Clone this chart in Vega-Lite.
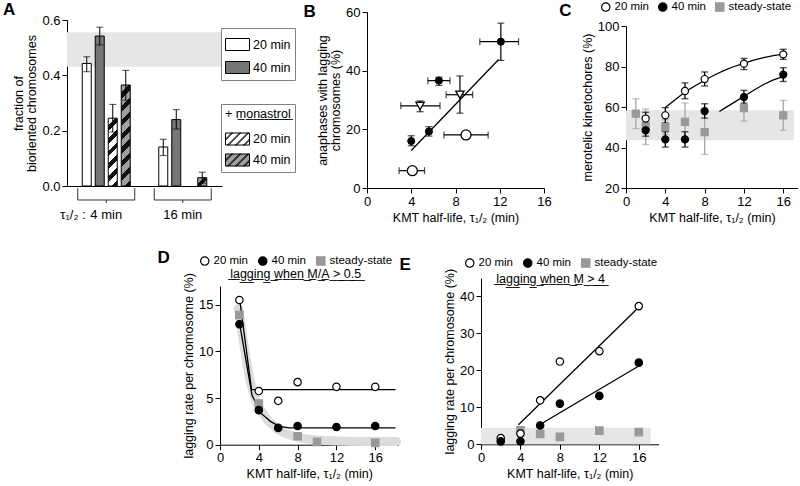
{
 "$schema": "https://vega.github.io/schema/vega-lite/v6.json",
 "background": "white",
 "padding": {"left": 2, "top": 0, "right": 0, "bottom": 0},
 "config": {
  "font": "Liberation Sans",
  "view": {"stroke": null},
  "axis": {"domainColor": "#000", "tickColor": "#000", "labelColor": "#000", "titleColor": "#000", "labelFontSize": 13, "titleFontSize": 12.5, "titleFontWeight": "normal", "grid": false, "tickSize": 5, "labelPadding": 2, "titlePadding": 3, "labelFlush": false, "labelOverlap": false, "titleLineHeight": 13},
  "legend": {"labelFontSize": 11.5, "labelColor": "#000", "titleColor": "#000"},
  "title": {"font": "Liberation Sans", "fontSize": 17, "fontWeight": "bold", "anchor": "start", "frame": "bounds", "color": "#000"}
 },
 "datasets": {
  "A": [
   {"tau": "4", "cond": "20 min", "treat": "ctrl", "grp": "20 min", "v": 0.443, "lo": 0.413, "hi": 0.467},
   {"tau": "4", "cond": "40 min", "treat": "ctrl", "grp": "40 min", "v": 0.542, "lo": 0.510, "hi": 0.574},
   {"tau": "4", "cond": "20 min", "treat": "mon", "grp": "20 min + monastrol", "v": 0.245, "lo": 0.195, "hi": 0.295},
   {"tau": "4", "cond": "40 min", "treat": "mon", "grp": "40 min + monastrol", "v": 0.365, "lo": 0.310, "hi": 0.418},
   {"tau": "16", "cond": "20 min", "treat": "ctrl", "grp": "20 min", "v": 0.141, "lo": 0.110, "hi": 0.169},
   {"tau": "16", "cond": "40 min", "treat": "ctrl", "grp": "40 min", "v": 0.240, "lo": 0.206, "hi": 0.276},
   {"tau": "16", "cond": "40 min", "treat": "mon", "grp": "40 min + monastrol", "v": 0.030, "lo": 0.010, "hi": 0.050}
  ],
  "Bpts": [
   {"kind": "filled", "x": 4.0, "y": 16.0, "ylo": 14.4, "yhi": 17.8, "xlo": null, "xhi": null},
   {"kind": "filled", "x": 5.6, "y": 19.3, "ylo": 17.7, "yhi": 20.9, "xlo": null, "xhi": null},
   {"kind": "filled", "x": 6.5, "y": 36.6, "ylo": 35.0, "yhi": 37.8, "xlo": 5.5, "xhi": 7.5},
   {"kind": "filled", "x": 12.1, "y": 49.9, "ylo": 43.5, "yhi": 56.2, "xlo": 10.2, "xhi": 13.7},
   {"kind": "triangle", "x": 4.8, "y": 28.0, "ylo": 26.0, "yhi": 29.7, "xlo": 3.05, "xhi": 6.6},
   {"kind": "triangle", "x": 8.4, "y": 31.8, "ylo": 25.5, "yhi": 38.2, "xlo": 7.15, "xhi": 9.55},
   {"kind": "open", "x": 4.1, "y": 5.9, "ylo": null, "yhi": null, "xlo": 2.9, "xhi": 5.2},
   {"kind": "open", "x": 8.95, "y": 18.1, "ylo": null, "yhi": null, "xlo": 6.95, "xhi": 10.95}
  ],
  "Bline": [{"x": 4.0, "y": 12.8}, {"x": 11.9, "y": 43.8}],
  "C": [
   {"series": "steady-state", "x": 1, "y": 56.7, "lo": 49.3, "hi": 64.1},
   {"series": "steady-state", "x": 2, "y": 50.5, "lo": 41.5, "hi": 59.0},
   {"series": "steady-state", "x": 4, "y": 50.1, "lo": 46.5, "hi": 53.7},
   {"series": "steady-state", "x": 6, "y": 52.6, "lo": 43.6, "hi": 62.0},
   {"series": "steady-state", "x": 8, "y": 47.6, "lo": 36.6, "hi": 58.6},
   {"series": "steady-state", "x": 12, "y": 59.4, "lo": 53.1, "hi": 65.7},
   {"series": "steady-state", "x": 16, "y": 55.9, "lo": 48.5, "hi": 63.3},
   {"series": "20 min", "x": 2, "y": 54.3, "lo": 51.2, "hi": 57.4},
   {"series": "20 min", "x": 4, "y": 55.9, "lo": 52.1, "hi": 59.7},
   {"series": "20 min", "x": 6, "y": 67.9, "lo": 64.1, "hi": 71.9},
   {"series": "20 min", "x": 8, "y": 73.8, "lo": 70.4, "hi": 77.3},
   {"series": "20 min", "x": 12, "y": 81.4, "lo": 78.5, "hi": 84.0},
   {"series": "20 min", "x": 16, "y": 86.0, "lo": 83.5, "hi": 88.5},
   {"series": "40 min", "x": 2, "y": 48.5, "lo": 45.6, "hi": 51.4},
   {"series": "40 min", "x": 4, "y": 44.0, "lo": 40.2, "hi": 47.8},
   {"series": "40 min", "x": 6, "y": 44.0, "lo": 40.2, "hi": 47.8},
   {"series": "40 min", "x": 8, "y": 58.0, "lo": 54.5, "hi": 61.6},
   {"series": "40 min", "x": 12, "y": 64.9, "lo": 61.9, "hi": 68.2},
   {"series": "40 min", "x": 16, "y": 76.0, "lo": 72.6, "hi": 79.4}
  ],
  "Cfit": [
   {"series": "20 min", "x": 4, "y": 59.7}, {"series": "20 min", "x": 5, "y": 63.6}, {"series": "20 min", "x": 6, "y": 67.4},
   {"series": "20 min", "x": 7, "y": 70.4}, {"series": "20 min", "x": 8, "y": 73.2}, {"series": "20 min", "x": 9, "y": 75.8},
   {"series": "20 min", "x": 10, "y": 78.1}, {"series": "20 min", "x": 11, "y": 80.0}, {"series": "20 min", "x": 12, "y": 81.6},
   {"series": "20 min", "x": 13, "y": 83.1}, {"series": "20 min", "x": 14, "y": 84.4}, {"series": "20 min", "x": 15, "y": 85.4},
   {"series": "20 min", "x": 16, "y": 86.1},
   {"series": "40 min", "x": 9.5, "y": 57.8}, {"series": "40 min", "x": 10, "y": 59.3}, {"series": "40 min", "x": 11, "y": 62.3},
   {"series": "40 min", "x": 12, "y": 65.3}, {"series": "40 min", "x": 13, "y": 68.3}, {"series": "40 min", "x": 14, "y": 71.1},
   {"series": "40 min", "x": 15, "y": 73.4}, {"series": "40 min", "x": 16, "y": 75.0}
  ],
  "D": [
   {"series": "steady-state", "x": 2, "y": 13.9}, {"series": "steady-state", "x": 4, "y": 4.4}, {"series": "steady-state", "x": 8, "y": 0.9},
   {"series": "steady-state", "x": 10, "y": 0.3}, {"series": "steady-state", "x": 16, "y": 0.2},
   {"series": "20 min", "x": 2, "y": 15.5}, {"series": "20 min", "x": 4, "y": 5.75}, {"series": "20 min", "x": 6, "y": 4.7},
   {"series": "20 min", "x": 8, "y": 6.7}, {"series": "20 min", "x": 12, "y": 6.2}, {"series": "20 min", "x": 16, "y": 6.2},
   {"series": "40 min", "x": 2, "y": 12.9}, {"series": "40 min", "x": 4, "y": 3.7}, {"series": "40 min", "x": 6, "y": 1.8},
   {"series": "40 min", "x": 8, "y": 2.0}, {"series": "40 min", "x": 12, "y": 1.9}, {"series": "40 min", "x": 16, "y": 2.0}
  ],
  "Dfit": [
   {"series": "20 min", "x": 2.05, "y": 15.4}, {"series": "20 min", "x": 3.25, "y": 5.9}, {"series": "20 min", "x": 18.1, "y": 5.9},
   {"series": "40 min", "x": 2.05, "y": 12.8}, {"series": "40 min", "x": 3.3, "y": 5.3}, {"series": "40 min", "x": 4.3, "y": 3.3},
   {"series": "40 min", "x": 5.2, "y": 2.5}, {"series": "40 min", "x": 6.05, "y": 2.0}, {"series": "40 min", "x": 7.1, "y": 1.8},
   {"series": "40 min", "x": 18.1, "y": 1.8}
  ],
  "Dss": [
   {"x": 1.9, "y": 14.6}, {"x": 2.5, "y": 10.5}, {"x": 3, "y": 7.3}, {"x": 3.5, "y": 5.3}, {"x": 4, "y": 4.0},
   {"x": 5, "y": 2.5}, {"x": 6, "y": 1.6}, {"x": 7, "y": 1.1}, {"x": 8, "y": 0.8}, {"x": 9, "y": 0.6},
   {"x": 10, "y": 0.5}, {"x": 12, "y": 0.4}, {"x": 14, "y": 0.35}, {"x": 18.2, "y": 0.35}
  ],
  "E": [
   {"series": "steady-state", "x": 4, "y": 3.8}, {"series": "steady-state", "x": 6, "y": 2.8}, {"series": "steady-state", "x": 8, "y": 2.0},
   {"series": "steady-state", "x": 12, "y": 3.7}, {"series": "steady-state", "x": 16, "y": 3.3},
   {"series": "20 min", "x": 2, "y": 1.7}, {"series": "20 min", "x": 4, "y": 2.9}, {"series": "20 min", "x": 6, "y": 11.9},
   {"series": "20 min", "x": 8, "y": 22.4}, {"series": "20 min", "x": 12, "y": 25.2}, {"series": "20 min", "x": 16, "y": 37.4},
   {"series": "40 min", "x": 2, "y": 0.8}, {"series": "40 min", "x": 4, "y": 0.8}, {"series": "40 min", "x": 6, "y": 5.1},
   {"series": "40 min", "x": 8, "y": 11.0}, {"series": "40 min", "x": 12, "y": 13.1}, {"series": "40 min", "x": 16, "y": 22.1}
  ],
  "Efit": [
   {"series": "20 min", "x": 3.8, "y": 5.3}, {"series": "20 min", "x": 16, "y": 37.1},
   {"series": "40 min", "x": 6.2, "y": 5.7}, {"series": "40 min", "x": 16, "y": 21.2}
  ]
 },
 "resolve": {"scale": {"fill": "independent", "stroke": "independent", "shape": "independent", "color": "independent"}, "legend": {"fill": "independent", "stroke": "independent", "shape": "independent", "color": "independent"}},
 "spacing": 25,
 "vconcat": [
  {
   "spacing": 7,
   "resolve": {"scale": {"fill": "independent", "stroke": "independent", "shape": "independent", "color": "independent"}, "legend": {"fill": "independent", "stroke": "independent", "shape": "independent", "color": "independent"}},
   "hconcat": [
    {
     "width": 155, "height": 174,
     "title": {"text": "A", "dx": -10, "offset": -6.5},
     "resolve": {"scale": {"fill": "independent"}, "legend": {"fill": "independent"}},
     "layer": [
      {
       "data": {"values": [{"lo": 0.431, "hi": 0.556}]},
       "mark": {"type": "rect", "color": "#e6e6e6"},
       "encoding": {
        "y": {"field": "lo", "type": "quantitative", "scale": {"domain": [0, 0.6], "nice": false, "range": [174, 8]}, "title": ["fraction of", "bioriented chromosomes"], "axis": {"values": [0, 0.2, 0.4, 0.6]}},
        "y2": {"field": "hi"}
       }
      },
      {
       "data": {"name": "A"},
       "transform": [{"filter": "datum.treat == 'ctrl'"}],
       "mark": {"type": "bar", "stroke": "#000", "strokeWidth": 1},
       "encoding": {
        "x": {"field": "tau", "type": "nominal", "sort": null, "scale": {"domain": ["4", "16"], "paddingInner": 0.255, "paddingOuter": 0.1405}, "axis": {"labels": false, "ticks": false, "title": null}},
        "xOffset": {"field": "grp", "type": "nominal", "sort": null, "scale": {"domain": ["20 min", "40 min", "20 min + monastrol", "40 min + monastrol"], "paddingInner": 0.3077, "paddingOuter": 0.346}},
        "y": {"field": "v", "type": "quantitative", "scale": {"domain": [0, 0.6], "nice": false, "range": [174, 8]}, "title": ["fraction of", "bioriented chromosomes"], "axis": {"values": [0, 0.2, 0.4, 0.6]}},
        "fill": {"field": "cond", "type": "nominal", "scale": {"domain": ["20 min", "40 min"], "range": ["#ffffff", "#767676"]},
         "legend": {"orient": "none", "legendX": 154, "legendY": 16, "title": null, "strokeColor": "#808080", "padding": 4, "symbolType": "M-1,-0.5H1V0.5H-1Z", "symbolSize": 576, "symbolStrokeColor": "#000", "symbolStrokeWidth": 1, "labelOffset": 3, "rowPadding": 2, "labelFontSize": 12.5}}
       }
      },
      {
       "data": {"name": "A"},
       "transform": [{"filter": "datum.treat == 'mon'"}],
       "mark": {"type": "bar", "stroke": "#000", "strokeWidth": 1},
       "encoding": {
        "x": {"field": "tau", "type": "nominal", "sort": null, "scale": {"domain": ["4", "16"], "paddingInner": 0.255, "paddingOuter": 0.1405}, "axis": {"labels": false, "ticks": false, "title": null}},
        "xOffset": {"field": "grp", "type": "nominal", "sort": null, "scale": {"domain": ["20 min", "40 min", "20 min + monastrol", "40 min + monastrol"], "paddingInner": 0.3077, "paddingOuter": 0.346}},
        "y": {"field": "v", "type": "quantitative", "scale": {"domain": [0, 0.6], "nice": false, "range": [174, 8]}, "title": ["fraction of", "bioriented chromosomes"], "axis": {"values": [0, 0.2, 0.4, 0.6]}},
        "fill": {
         "field": "cond", "type": "nominal",
         "scale": {"domain": ["20 min", "40 min"], "range": ["#ffffff", "#a0a0a0"]},
         "legend": {"orient": "none", "legendX": 154, "legendY": 92, "title": "+ m\u0332o\u0332n\u0332a\u0332s\u0332t\u0332r\u0332o\u0332l\u0332", "titleFontSize": 12.5, "titleFontWeight": "normal", "titleFont": "Liberation Sans", "titlePadding": 6, "strokeColor": "#808080", "padding": 4,
          "symbolType": "M-1,-0.5H1V0.5H-1Z M-1,0L-0.5,-0.5L-0.4,-0.5L-1,0.1Z M-0.833,0.5L0.167,-0.5L0.267,-0.5L-0.733,0.5Z M-0.167,0.5L0.833,-0.5L0.933,-0.5L-0.067,0.5Z M0.5,0.5L1,0L1,0.1L0.6,0.5Z",
          "symbolSize": 576, "symbolStrokeColor": "#000", "symbolStrokeWidth": 1, "labelOffset": 3, "rowPadding": -2, "labelFontSize": 12.5},
         "condition": [
          {"test": "datum.tau == '4' && datum.cond == '20 min'", "value": {"gradient": "linear", "x1": 0, "y1": 0, "x2": 0.148, "y2": 1.113, "stops": [
           {"offset": 0, "color": "#ffffff"}, {"offset": 0.0917, "color": "#ffffff"}, {"offset": 0.0917, "color": "#111111"}, {"offset": 0.1667, "color": "#111111"},
           {"offset": 0.1667, "color": "#ffffff"}, {"offset": 0.2583, "color": "#ffffff"}, {"offset": 0.2583, "color": "#111111"}, {"offset": 0.3333, "color": "#111111"},
           {"offset": 0.3333, "color": "#ffffff"}, {"offset": 0.425, "color": "#ffffff"}, {"offset": 0.425, "color": "#111111"}, {"offset": 0.5, "color": "#111111"},
           {"offset": 0.5, "color": "#ffffff"}, {"offset": 0.5917, "color": "#ffffff"}, {"offset": 0.5917, "color": "#111111"}, {"offset": 0.6667, "color": "#111111"},
           {"offset": 0.6667, "color": "#ffffff"}, {"offset": 0.7583, "color": "#ffffff"}, {"offset": 0.7583, "color": "#111111"}, {"offset": 0.8333, "color": "#111111"},
           {"offset": 0.8333, "color": "#ffffff"}, {"offset": 0.925, "color": "#ffffff"}, {"offset": 0.925, "color": "#111111"}, {"offset": 1, "color": "#111111"}]}},
          {"test": "datum.tau == '4' && datum.cond == '40 min'", "value": {"gradient": "linear", "x1": 0, "y1": 0, "x2": 0.0964, "y2": 1.0806, "stops": [
           {"offset": 0, "color": "#a0a0a0"}, {"offset": 0.0688, "color": "#a0a0a0"}, {"offset": 0.0688, "color": "#111111"}, {"offset": 0.125, "color": "#111111"},
           {"offset": 0.125, "color": "#a0a0a0"}, {"offset": 0.1938, "color": "#a0a0a0"}, {"offset": 0.1938, "color": "#111111"}, {"offset": 0.25, "color": "#111111"},
           {"offset": 0.25, "color": "#a0a0a0"}, {"offset": 0.3188, "color": "#a0a0a0"}, {"offset": 0.3188, "color": "#111111"}, {"offset": 0.375, "color": "#111111"},
           {"offset": 0.375, "color": "#a0a0a0"}, {"offset": 0.4438, "color": "#a0a0a0"}, {"offset": 0.4438, "color": "#111111"}, {"offset": 0.5, "color": "#111111"},
           {"offset": 0.5, "color": "#a0a0a0"}, {"offset": 0.5688, "color": "#a0a0a0"}, {"offset": 0.5688, "color": "#111111"}, {"offset": 0.625, "color": "#111111"},
           {"offset": 0.625, "color": "#a0a0a0"}, {"offset": 0.6938, "color": "#a0a0a0"}, {"offset": 0.6938, "color": "#111111"}, {"offset": 0.75, "color": "#111111"},
           {"offset": 0.75, "color": "#a0a0a0"}, {"offset": 0.8188, "color": "#a0a0a0"}, {"offset": 0.8188, "color": "#111111"}, {"offset": 0.875, "color": "#111111"},
           {"offset": 0.875, "color": "#a0a0a0"}, {"offset": 0.9438, "color": "#a0a0a0"}, {"offset": 0.9438, "color": "#111111"}, {"offset": 1, "color": "#111111"}]}},
          {"test": "datum.tau == '16'", "value": {"gradient": "linear", "x1": 0, "y1": 0, "x2": 1.039, "y2": 0.958, "stops": [
           {"offset": 0, "color": "#a0a0a0"}, {"offset": 0.35, "color": "#a0a0a0"}, {"offset": 0.35, "color": "#111111"}, {"offset": 0.65, "color": "#111111"},
           {"offset": 0.65, "color": "#a0a0a0"}, {"offset": 1, "color": "#a0a0a0"}]}}
         ]
        }
       }
      },
      {
       "data": {"name": "A"},
       "mark": {"type": "rule", "color": "#000", "strokeWidth": 1},
       "encoding": {
        "x": {"field": "tau", "type": "nominal", "sort": null, "scale": {"domain": ["4", "16"], "paddingInner": 0.255, "paddingOuter": 0.1405}, "axis": {"labels": false, "ticks": false, "title": null}},
        "xOffset": {"field": "grp", "type": "nominal", "sort": null, "scale": {"domain": ["20 min", "40 min", "20 min + monastrol", "40 min + monastrol"], "paddingInner": 0.3077, "paddingOuter": 0.346}},
        "y": {"field": "lo", "type": "quantitative", "scale": {"domain": [0, 0.6], "nice": false, "range": [174, 8]}, "title": ["fraction of", "bioriented chromosomes"], "axis": {"values": [0, 0.2, 0.4, 0.6]}},
        "y2": {"field": "hi"}
       }
      },
      {
       "data": {"name": "A"},
       "transform": [{"fold": ["lo", "hi"], "as": ["end", "ev"]}],
       "mark": {"type": "tick", "orient": "horizontal", "color": "#000", "size": 7, "thickness": 1},
       "encoding": {
        "x": {"field": "tau", "type": "nominal", "sort": null, "scale": {"domain": ["4", "16"], "paddingInner": 0.255, "paddingOuter": 0.1405}, "axis": {"labels": false, "ticks": false, "title": null}},
        "xOffset": {"field": "grp", "type": "nominal", "sort": null, "scale": {"domain": ["20 min", "40 min", "20 min + monastrol", "40 min + monastrol"], "paddingInner": 0.3077, "paddingOuter": 0.346}},
        "y": {"field": "ev", "type": "quantitative", "scale": {"domain": [0, 0.6], "nice": false, "range": [174, 8]}, "title": ["fraction of", "bioriented chromosomes"], "axis": {"values": [0, 0.2, 0.4, 0.6]}}
       }
      },
      {
       "data": {"values": [{"tau": "4"}, {"tau": "16"}]},
       "mark": {"type": "rule", "color": "#333", "strokeWidth": 1},
       "encoding": {
        "x": {"field": "tau", "type": "nominal", "sort": null, "bandPosition": 0, "scale": {"domain": ["4", "16"], "paddingInner": 0.255, "paddingOuter": 0.1405}, "axis": {"labels": false, "ticks": false, "title": null}},
        "x2": {"field": "tau", "bandPosition": 1},
        "y": {"datum": -0.0506, "type": "quantitative", "title": ["fraction of", "bioriented chromosomes"]}
       }
      },
      {
       "data": {"values": [{"tau": "4"}, {"tau": "16"}]},
       "mark": {"type": "rule", "color": "#333", "strokeWidth": 1},
       "encoding": {
        "x": {"field": "tau", "type": "nominal", "sort": null, "bandPosition": 0, "scale": {"domain": ["4", "16"], "paddingInner": 0.255, "paddingOuter": 0.1405}, "axis": {"labels": false, "ticks": false, "title": null}},
        "y": {"datum": -0.0083, "type": "quantitative", "title": ["fraction of", "bioriented chromosomes"]},
        "y2": {"datum": -0.0506}
       }
      },
      {
       "data": {"values": [{"tau": "4"}, {"tau": "16"}]},
       "mark": {"type": "rule", "color": "#333", "strokeWidth": 1},
       "encoding": {
        "x": {"field": "tau", "type": "nominal", "sort": null, "bandPosition": 1, "scale": {"domain": ["4", "16"], "paddingInner": 0.255, "paddingOuter": 0.1405}, "axis": {"labels": false, "ticks": false, "title": null}},
        "y": {"datum": -0.0083, "type": "quantitative", "title": ["fraction of", "bioriented chromosomes"]},
        "y2": {"datum": -0.0506}
       }
      },
      {
       "data": {"values": [{"tau": "4"}, {"tau": "16"}]},
       "mark": {"type": "rule", "color": "#333", "strokeWidth": 1},
       "encoding": {
        "x": {"field": "tau", "type": "nominal", "sort": null, "bandPosition": 0.5, "scale": {"domain": ["4", "16"], "paddingInner": 0.255, "paddingOuter": 0.1405}, "axis": {"labels": false, "ticks": false, "title": null}},
        "y": {"datum": -0.0506, "type": "quantitative", "title": ["fraction of", "bioriented chromosomes"]},
        "y2": {"datum": -0.0614}
       }
      },
      {
       "data": {"values": [{"tau": "4", "lab": "4 min"}, {"tau": "16", "lab": "16 min"}]},
       "mark": {"type": "text", "fontSize": 13, "baseline": "middle", "color": "#000"},
       "encoding": {
        "x": {"field": "tau", "type": "nominal", "sort": null, "scale": {"domain": ["4", "16"], "paddingInner": 0.255, "paddingOuter": 0.1405}, "axis": {"labels": false, "ticks": false, "title": null}},
        "y": {"datum": -0.1048, "type": "quantitative", "title": ["fraction of", "bioriented chromosomes"]},
        "text": {"field": "lab"}
       }
      },
      {
       "data": {"values": [{"tau": "4", "lab": "τ₁/₂ :"}]},
       "mark": {"type": "text", "fontSize": 13, "baseline": "middle", "align": "right", "dx": 8, "color": "#000"},
       "encoding": {
        "x": {"field": "tau", "type": "nominal", "sort": null, "bandPosition": 0, "scale": {"domain": ["4", "16"], "paddingInner": 0.255, "paddingOuter": 0.1405}, "axis": {"labels": false, "ticks": false, "title": null}},
        "y": {"datum": -0.1048, "type": "quantitative", "title": ["fraction of", "bioriented chromosomes"]},
        "text": {"field": "lab"}
       }
      }
     ]
    },
    {
     "width": 177, "height": 176,
     "title": {"text": "B", "dx": -13, "offset": -14.5},
     "layer": [
      {
       "data": {"name": "Bline"},
       "mark": {"type": "line", "color": "#000", "strokeWidth": 1.3},
       "encoding": {
        "x": {"field": "x", "type": "quantitative", "scale": {"domain": [0, 16], "nice": false}, "title": "KMT half-life, τ₁/₂ (min)", "axis": {"values": [0, 4, 8, 12, 16]}},
        "y": {"field": "y", "type": "quantitative", "scale": {"domain": [0, 60], "nice": false}, "title": ["anaphases with lagging", "chromosomes (%)"], "axis": {"values": [0, 20, 40, 60]}}
       }
      },
      {
       "data": {"name": "Bpts"},
       "transform": [{"filter": "datum.xlo != null"}],
       "mark": {"type": "errorbar", "ticks": {"size": 7}, "color": "#000", "thickness": 1.2},
       "encoding": {
        "x": {"field": "xlo", "type": "quantitative", "scale": {"domain": [0, 16], "nice": false}, "title": "KMT half-life, τ₁/₂ (min)"},
        "x2": {"field": "xhi"},
        "y": {"field": "y", "type": "quantitative", "scale": {"domain": [0, 60], "nice": false}, "title": ["anaphases with lagging", "chromosomes (%)"]}
       }
      },
      {
       "data": {"name": "Bpts"},
       "transform": [{"filter": "datum.ylo != null"}],
       "mark": {"type": "errorbar", "ticks": {"size": 7}, "color": "#000", "thickness": 1.2},
       "encoding": {
        "x": {"field": "x", "type": "quantitative", "scale": {"domain": [0, 16], "nice": false}, "title": "KMT half-life, τ₁/₂ (min)"},
        "y": {"field": "ylo", "type": "quantitative", "scale": {"domain": [0, 60], "nice": false}, "title": ["anaphases with lagging", "chromosomes (%)"]},
        "y2": {"field": "yhi"}
       }
      },
      {
       "data": {"name": "Bpts"},
       "transform": [{"filter": "datum.kind == 'open'"}],
       "mark": {"type": "point", "shape": "circle", "filled": true, "fill": "#fff", "stroke": "#000", "strokeWidth": 1.3, "size": 100, "opacity": 1},
       "encoding": {
        "x": {"field": "x", "type": "quantitative", "scale": {"domain": [0, 16], "nice": false}, "title": "KMT half-life, τ₁/₂ (min)"},
        "y": {"field": "y", "type": "quantitative", "scale": {"domain": [0, 60], "nice": false}, "title": ["anaphases with lagging", "chromosomes (%)"]}
       }
      },
      {
       "data": {"name": "Bpts"},
       "transform": [{"filter": "datum.kind == 'triangle'"}],
       "mark": {"type": "point", "shape": "triangle-down", "filled": true, "fill": "#fff", "stroke": "#000", "strokeWidth": 1.3, "size": 70, "opacity": 1},
       "encoding": {
        "x": {"field": "x", "type": "quantitative", "scale": {"domain": [0, 16], "nice": false}, "title": "KMT half-life, τ₁/₂ (min)"},
        "y": {"field": "y", "type": "quantitative", "scale": {"domain": [0, 60], "nice": false}, "title": ["anaphases with lagging", "chromosomes (%)"]}
       }
      },
      {
       "data": {"name": "Bpts"},
       "transform": [{"filter": "datum.kind == 'filled'"}],
       "mark": {"type": "point", "shape": "circle", "filled": true, "fill": "#000", "stroke": "#000", "strokeWidth": 1, "size": 50, "opacity": 1},
       "encoding": {
        "x": {"field": "x", "type": "quantitative", "scale": {"domain": [0, 16], "nice": false}, "title": "KMT half-life, τ₁/₂ (min)"},
        "y": {"field": "y", "type": "quantitative", "scale": {"domain": [0, 60], "nice": false}, "title": ["anaphases with lagging", "chromosomes (%)"]}
       }
      }
     ]
    },
    {
     "width": 172, "height": 176,
     "title": {"text": "C", "dx": -22, "offset": -18.5},
     "layer": [
      {
       "data": {"values": [{"x1": 0, "x2": 17.1, "lo": 43.6, "hi": 58.4}]},
       "mark": {"type": "rect", "color": "#e6e6e6"},
       "encoding": {
        "x": {"field": "x1", "type": "quantitative", "scale": {"domain": [0, 17.5], "nice": false}, "title": "KMT half-life, τ₁/₂ (min)", "axis": {"values": [0, 4, 8, 12, 16]}},
        "x2": {"field": "x2"},
        "y": {"field": "lo", "type": "quantitative", "scale": {"domain": [20, 100], "nice": false, "zero": false, "range": [176, 14]}, "title": "merotelic kinetochores (%)", "axis": {"values": [20, 40, 60, 80, 100]}},
        "y2": {"field": "hi"}
       }
      },
      {
       "data": {"name": "C"},
       "transform": [{"filter": "datum.series == 'steady-state'"}],
       "mark": {"type": "errorbar", "ticks": {"size": 7}, "thickness": 1.3, "color": "#a6a6a6"},
       "encoding": {
        "x": {"field": "x", "type": "quantitative", "scale": {"domain": [0, 17.5], "nice": false}, "title": "KMT half-life, τ₁/₂ (min)", "axis": {"values": [0, 4, 8, 12, 16]}},
        "y": {"field": "lo", "type": "quantitative", "scale": {"domain": [20, 100], "nice": false, "zero": false, "range": [176, 14]}, "title": "merotelic kinetochores (%)", "axis": {"values": [20, 40, 60, 80, 100]}},
        "y2": {"field": "hi"}
       }
      },
      {
       "data": {"name": "C"},
       "transform": [{"filter": "datum.series != 'steady-state'"}],
       "mark": {"type": "errorbar", "ticks": {"size": 7}, "thickness": 1.3, "color": "#000"},
       "encoding": {
        "x": {"field": "x", "type": "quantitative", "scale": {"domain": [0, 17.5], "nice": false}, "title": "KMT half-life, τ₁/₂ (min)", "axis": {"values": [0, 4, 8, 12, 16]}},
        "y": {"field": "lo", "type": "quantitative", "scale": {"domain": [20, 100], "nice": false, "zero": false, "range": [176, 14]}, "title": "merotelic kinetochores (%)", "axis": {"values": [20, 40, 60, 80, 100]}},
        "y2": {"field": "hi"}
       }
      },
      {
       "data": {"name": "Cfit"},
       "mark": {"type": "line", "color": "#000", "strokeWidth": 1.3},
       "encoding": {
        "x": {"field": "x", "type": "quantitative", "scale": {"domain": [0, 17.5], "nice": false}, "title": "KMT half-life, τ₁/₂ (min)", "axis": {"values": [0, 4, 8, 12, 16]}},
        "y": {"field": "y", "type": "quantitative", "scale": {"domain": [20, 100], "nice": false, "zero": false, "range": [176, 14]}, "title": "merotelic kinetochores (%)", "axis": {"values": [20, 40, 60, 80, 100]}},
        "detail": {"field": "series", "type": "nominal"}
       }
      },
      {
       "data": {"name": "C"},
       "mark": {"type": "point", "filled": true, "size": 50, "strokeWidth": 1.2, "opacity": 1},
       "encoding": {
        "x": {"field": "x", "type": "quantitative", "scale": {"domain": [0, 17.5], "nice": false}, "title": "KMT half-life, τ₁/₂ (min)", "axis": {"values": [0, 4, 8, 12, 16]}},
        "y": {"field": "y", "type": "quantitative", "scale": {"domain": [20, 100], "nice": false, "zero": false, "range": [176, 14]}, "title": "merotelic kinetochores (%)", "axis": {"values": [20, 40, 60, 80, 100]}},
        "shape": {"field": "series", "type": "nominal", "scale": {"domain": ["20 min", "40 min", "steady-state"], "range": ["circle", "circle", "square"]},
         "legend": {"orient": "none", "legendX": -26, "legendY": -11, "direction": "horizontal", "title": null, "labelOffset": 3, "columnPadding": 6, "symbolSize": 70, "symbolStrokeWidth": 1.2, "padding": 0}},
        "fill": {"field": "series", "type": "nominal", "scale": {"domain": ["20 min", "40 min", "steady-state"], "range": ["#ffffff", "#000000", "#999999"]},
         "legend": {"orient": "none", "legendX": -26, "legendY": -11, "direction": "horizontal", "title": null, "labelOffset": 3, "columnPadding": 6, "symbolSize": 70, "symbolStrokeWidth": 1.2, "padding": 0}},
        "stroke": {"field": "series", "type": "nominal", "scale": {"domain": ["20 min", "40 min", "steady-state"], "range": ["#000000", "#000000", "#999999"]},
         "legend": {"orient": "none", "legendX": -26, "legendY": -11, "direction": "horizontal", "title": null, "labelOffset": 3, "columnPadding": 6, "symbolSize": 70, "symbolStrokeWidth": 1.2, "padding": 0}}
       }
      }
     ]
    }
   ]
  },
  {
   "spacing": -3,
   "resolve": {"scale": {"fill": "independent", "stroke": "independent", "shape": "independent", "color": "independent"}, "legend": {"fill": "independent", "stroke": "independent", "shape": "independent", "color": "independent"}},
   "hconcat": [
    {
     "width": 93, "height": 10,
     "data": {"values": [{"a": 1}]},
     "mark": {"type": "rect", "opacity": 0}
    },
    {
     "width": 178.5, "height": 166.7,
     "title": {"text": "D", "dx": -25, "offset": -12},
     "layer": [
      {
       "data": {"name": "Dss"},
       "mark": {"type": "line", "color": "#dcdcdc", "strokeWidth": 9, "strokeCap": "round", "strokeJoin": "round"},
       "encoding": {
        "x": {"field": "x", "type": "quantitative", "scale": {"domain": [0, 18.4], "nice": false}, "title": "KMT half-life, τ₁/₂ (min)", "axis": {"values": [0, 4, 8, 12, 16]}},
        "y": {"field": "y", "type": "quantitative", "scale": {"domain": [0, 17], "nice": false, "range": [166.7, 8]}, "title": "lagging rate per chromosome (%)", "axis": {"values": [0, 5, 10, 15]}}
       }
      },
      {
       "data": {"name": "Dfit"},
       "mark": {"type": "line", "color": "#000", "strokeWidth": 1.3},
       "encoding": {
        "x": {"field": "x", "type": "quantitative", "scale": {"domain": [0, 18.4], "nice": false}, "title": "KMT half-life, τ₁/₂ (min)", "axis": {"values": [0, 4, 8, 12, 16]}},
        "y": {"field": "y", "type": "quantitative", "scale": {"domain": [0, 17], "nice": false, "range": [166.7, 8]}, "title": "lagging rate per chromosome (%)", "axis": {"values": [0, 5, 10, 15]}},
        "detail": {"field": "series", "type": "nominal"}
       }
      },
      {
       "data": {"values": [{"x": 7.8, "y": 18.3, "t": "l\u0332a\u0332g\u0332g\u0332i\u0332n\u0332g\u0332 \u0332w\u0332h\u0332e\u0332n\u0332 \u0332M\u0332/\u0332A\u0332 \u0332>\u0332 \u03320\u0332.\u03325\u0332"}]},
       "mark": {"type": "text", "fontSize": 12.5, "baseline": "middle", "align": "center", "color": "#000"},
       "encoding": {
        "x": {"field": "x", "type": "quantitative", "scale": {"domain": [0, 18.4], "nice": false}, "title": "KMT half-life, τ₁/₂ (min)", "axis": {"values": [0, 4, 8, 12, 16]}},
        "y": {"field": "y", "type": "quantitative", "scale": {"domain": [0, 17], "nice": false, "range": [166.7, 8]}, "title": "lagging rate per chromosome (%)", "axis": {"values": [0, 5, 10, 15]}},
        "text": {"field": "t"}
       }
      },
      {
       "data": {"name": "D"},
       "mark": {"type": "point", "filled": true, "size": 55, "strokeWidth": 1.2, "opacity": 1},
       "encoding": {
        "x": {"field": "x", "type": "quantitative", "scale": {"domain": [0, 18.4], "nice": false}, "title": "KMT half-life, τ₁/₂ (min)", "axis": {"values": [0, 4, 8, 12, 16]}},
        "y": {"field": "y", "type": "quantitative", "scale": {"domain": [0, 17], "nice": false, "range": [166.7, 8]}, "title": "lagging rate per chromosome (%)", "axis": {"values": [0, 5, 10, 15]}},
        "shape": {"field": "series", "type": "nominal", "scale": {"domain": ["20 min", "40 min", "steady-state"], "range": ["circle", "circle", "square"]},
         "legend": {"orient": "none", "legendX": -21, "legendY": -23, "direction": "horizontal", "title": null, "labelOffset": 3, "columnPadding": 7, "symbolSize": 70, "symbolStrokeWidth": 1.2, "padding": 0}},
        "fill": {"field": "series", "type": "nominal", "scale": {"domain": ["20 min", "40 min", "steady-state"], "range": ["#ffffff", "#000000", "#999999"]},
         "legend": {"orient": "none", "legendX": -21, "legendY": -23, "direction": "horizontal", "title": null, "labelOffset": 3, "columnPadding": 7, "symbolSize": 70, "symbolStrokeWidth": 1.2, "padding": 0}},
        "stroke": {"field": "series", "type": "nominal", "scale": {"domain": ["20 min", "40 min", "steady-state"], "range": ["#000000", "#000000", "#999999"]},
         "legend": {"orient": "none", "legendX": -21, "legendY": -23, "direction": "horizontal", "title": null, "labelOffset": 3, "columnPadding": 7, "symbolSize": 70, "symbolStrokeWidth": 1.2, "padding": 0}}
       }
      }
     ]
    },
    {
     "width": 177.5, "height": 166.3,
     "title": {"text": "E", "dx": -44, "offset": -17},
     "layer": [
      {
       "data": {"values": [{"x1": 0, "x2": 17.2, "lo": 0, "hi": 4.5}]},
       "mark": {"type": "rect", "color": "#e6e6e6"},
       "encoding": {
        "x": {"field": "x1", "type": "quantitative", "scale": {"domain": [0, 18], "nice": false}, "title": "KMT half-life, τ₁/₂ (min)", "axis": {"values": [0, 4, 8, 12, 16]}},
        "x2": {"field": "x2"},
        "y": {"field": "lo", "type": "quantitative", "scale": {"domain": [0, 45], "nice": false}, "title": "lagging rate per chromosome (%)", "axis": {"values": [0, 10, 20, 30, 40]}},
        "y2": {"field": "hi"}
       }
      },
      {
       "data": {"name": "Efit"},
       "mark": {"type": "line", "color": "#000", "strokeWidth": 1.3},
       "encoding": {
        "x": {"field": "x", "type": "quantitative", "scale": {"domain": [0, 18], "nice": false}, "title": "KMT half-life, τ₁/₂ (min)", "axis": {"values": [0, 4, 8, 12, 16]}},
        "y": {"field": "y", "type": "quantitative", "scale": {"domain": [0, 45], "nice": false}, "title": "lagging rate per chromosome (%)", "axis": {"values": [0, 10, 20, 30, 40]}},
        "detail": {"field": "series", "type": "nominal"}
       }
      },
      {
       "data": {"values": [{"x": 7.06, "y": 44.7, "t": "l\u0332a\u0332g\u0332g\u0332i\u0332n\u0332g\u0332 \u0332w\u0332h\u0332e\u0332n\u0332 \u0332M\u0332 \u0332>\u0332 \u03324\u0332"}]},
       "mark": {"type": "text", "fontSize": 12.5, "baseline": "middle", "align": "center", "color": "#000"},
       "encoding": {
        "x": {"field": "x", "type": "quantitative", "scale": {"domain": [0, 18], "nice": false}, "title": "KMT half-life, τ₁/₂ (min)", "axis": {"values": [0, 4, 8, 12, 16]}},
        "y": {"field": "y", "type": "quantitative", "scale": {"domain": [0, 45], "nice": false}, "title": "lagging rate per chromosome (%)", "axis": {"values": [0, 10, 20, 30, 40]}},
        "text": {"field": "t"}
       }
      },
      {
       "data": {"name": "E"},
       "mark": {"type": "point", "filled": true, "size": 55, "strokeWidth": 1.2, "opacity": 1},
       "encoding": {
        "x": {"field": "x", "type": "quantitative", "scale": {"domain": [0, 18], "nice": false}, "title": "KMT half-life, τ₁/₂ (min)", "axis": {"values": [0, 4, 8, 12, 16]}},
        "y": {"field": "y", "type": "quantitative", "scale": {"domain": [0, 45], "nice": false}, "title": "lagging rate per chromosome (%)", "axis": {"values": [0, 10, 20, 30, 40]}},
        "shape": {"field": "series", "type": "nominal", "scale": {"domain": ["20 min", "40 min", "steady-state"], "range": ["circle", "circle", "square"]},
         "legend": {"orient": "none", "legendX": -17, "legendY": -21, "direction": "horizontal", "title": null, "labelOffset": 3, "columnPadding": 7, "symbolSize": 70, "symbolStrokeWidth": 1.2, "padding": 0}},
        "fill": {"field": "series", "type": "nominal", "scale": {"domain": ["20 min", "40 min", "steady-state"], "range": ["#ffffff", "#000000", "#999999"]},
         "legend": {"orient": "none", "legendX": -17, "legendY": -21, "direction": "horizontal", "title": null, "labelOffset": 3, "columnPadding": 7, "symbolSize": 70, "symbolStrokeWidth": 1.2, "padding": 0}},
        "stroke": {"field": "series", "type": "nominal", "scale": {"domain": ["20 min", "40 min", "steady-state"], "range": ["#000000", "#000000", "#999999"]},
         "legend": {"orient": "none", "legendX": -17, "legendY": -21, "direction": "horizontal", "title": null, "labelOffset": 3, "columnPadding": 7, "symbolSize": 70, "symbolStrokeWidth": 1.2, "padding": 0}}
       }
      }
     ]
    }
   ]
  }
 ]
}
